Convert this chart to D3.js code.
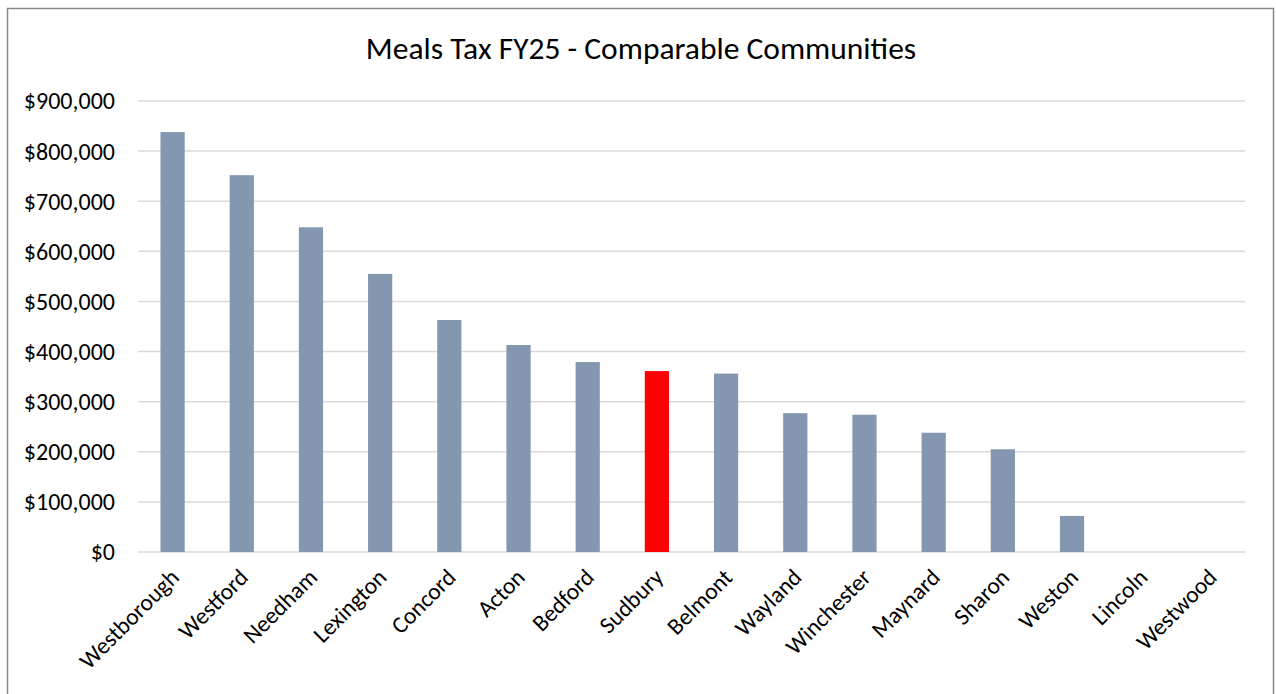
<!DOCTYPE html>
<html><head><meta charset="utf-8">
<script src="https://cdn.jsdelivr.net/npm/d3@7"></script>
<style>body{margin:0;background:#fff}svg{display:block}text{font-family:Carlito,Lato,"Open Sans",sans-serif}</style>
</head><body>
<svg id="c" width="1276" height="694"></svg>
<script>
const categories=["Westborough","Westford","Needham","Lexington","Concord","Acton","Bedford","Sudbury","Belmont","Wayland","Winchester","Maynard","Sharon","Weston","Lincoln","Westwood"];
const values=[838000,752000,648000,555000,463000,413000,379000,361000,356000,277000,274000,238000,205000,72000,0,0];
const highlight="Sudbury";
const yTicks=[0,100000,200000,300000,400000,500000,600000,700000,800000,900000];
const title="Meals Tax FY25 - Comparable Communities";

const svg=d3.select("#c");
svg.append("rect").attr("x",7.5).attr("y",8.5).attr("width",1266).attr("height",700).attr("fill","#fff").attr("stroke","#898989").attr("stroke-width",1.5);
const m={l:138,r:1245,t:101,b:552};
const x=d3.scaleBand().domain(categories).range([m.l,m.r]).paddingInner(0.65).paddingOuter(0.325);
const y=d3.scaleLinear().domain([0,900000]).range([m.b,m.t]);
svg.append("g").selectAll("line").data(yTicks).join("line")
 .attr("x1",m.l).attr("x2",m.r).attr("y1",d=>y(d)).attr("y2",d=>y(d))
 .attr("stroke","#d9d9d9").attr("stroke-width",1.5);
const fmt=d=>"$"+d3.format(",")(d);
svg.append("g").selectAll("text").data(yTicks).join("text")
 .attr("x",115).attr("y",d=>y(d)).attr("dy","0.35em").attr("text-anchor","end")
 .attr("font-size",24).attr("fill","#000").text(fmt);
svg.append("g").selectAll("rect").data(categories).join("rect")
 .attr("x",d=>x(d)).attr("width",x.bandwidth())
 .attr("y",(d,i)=>y(values[i])).attr("height",(d,i)=>y(0)-y(values[i]))
 .attr("fill",d=>d===highlight?"#ff0000":"#8497b0");
svg.append("g").selectAll("text").data(categories).join("text")
 .attr("transform",d=>`translate(${x(d)+x.bandwidth()/2+2},${m.b+21}) rotate(-45)`)
 .attr("text-anchor","end").attr("dy","0.35em").attr("font-size",23.5).attr("fill","#000").text(d=>d);
svg.append("text").attr("x",641).attr("y",59).attr("text-anchor","middle").attr("font-size",31.5).attr("fill","#000").text(title);
</script>
</body></html>
